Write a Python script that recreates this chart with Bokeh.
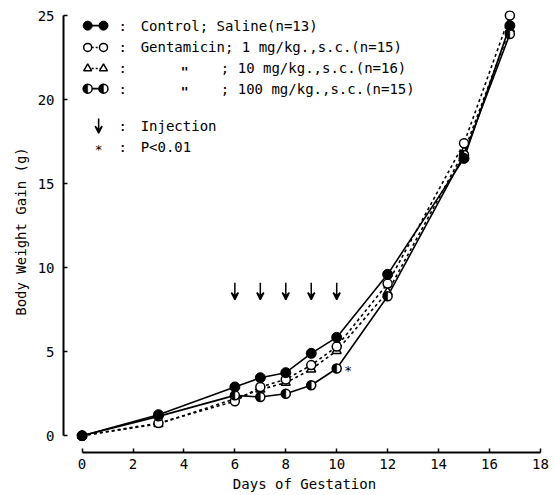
import math
from bokeh.plotting import figure
from bokeh.models import ColumnDataSource, Arrow, VeeHead, FixedTicker
from bokeh.core.properties import value
from bokeh.embed import file_html
from bokeh.resources import INLINE

# ---- data ----
days = [0, 3, 6, 7, 8, 9, 10, 12, 15, 16.8]
control = [0, 1.25, 2.9, 3.45, 3.75, 4.9, 5.85, 9.6, 16.5, 24.4]
genta_1 = [0, 0.75, 2.05, 2.9, 3.35, 4.2, 5.3, 9.05, 17.4, 25.0]
genta_10 = [0, 0.7, 2.2, 2.75, 3.15, 3.95, 5.05, 8.55, 16.9, 24.2]
genta_100 = [0, 1.15, 2.4, 2.3, 2.5, 3.0, 4.0, 8.3, 16.7, 23.9]
injection_days = [6, 7, 8, 9, 10]
signif_day = [10]
signif_val = [4.0]
x_ticks = [0, 2, 4, 6, 8, 10, 12, 14, 16, 18]
y_ticks = [0, 5, 10, 15, 20, 25]
legend_rows = ["Control; Saline(n=13)", "Gentamicin; 1 mg/kg.,s.c.(n=15)",
               "; 10 mg/kg.,s.c.(n=16)", "; 100 mg/kg.,s.c.(n=15)"]

FONT = "DejaVu Sans Mono"
F = value(FONT)
K = "black"

p = figure(width=554, height=495, x_range=(-0.73, 18.2), y_range=(-1.0, 25.3),
           output_backend="svg", toolbar_location=None,
           min_border_left=63, min_border_right=9, min_border_top=10, min_border_bottom=43)
p.outline_line_color = None
p.grid.visible = False
p.background_fill_color = "white"
p.border_fill_color = "white"

for ax in (p.xaxis[0], p.yaxis[0]):
    ax.axis_line_width = 2
    ax.axis_line_color = K
    ax.major_tick_in = 4
    ax.major_tick_out = 0
    ax.major_tick_line_width = 1.5
    ax.major_tick_line_color = K
    ax.minor_tick_line_color = None
    ax.major_label_text_font = FONT
    ax.major_label_text_font_size = "14px"
    ax.major_label_text_color = K
    ax.axis_label_text_font = FONT
    ax.axis_label_text_font_size = "14px"
    ax.axis_label_text_font_style = "normal"
    ax.axis_label_text_color = K

p.xaxis.ticker = FixedTicker(ticks=x_ticks)
p.yaxis.ticker = FixedTicker(ticks=y_ticks)
p.xaxis.bounds = (0, 18)
p.yaxis.bounds = (0, 25)
p.xaxis.axis_label = "Days of Gestation"
p.yaxis.axis_label = "Body Weight Gain (g)"
p.xaxis.major_label_standoff = 6
p.xaxis.axis_label_standoff = 4
p.yaxis.major_label_standoff = 9
p.yaxis.axis_label_standoff = 6

src = ColumnDataSource(dict(d=days, c=control, g1=genta_1, g10=genta_10, g100=genta_100))

# lines
p.line("d", "c", source=src, line_color=K, line_width=1.6)
p.line("d", "g1", source=src, line_color=K, line_width=1.6, line_dash="3 3")
p.line("d", "g10", source=src, line_color=K, line_width=1.6, line_dash="3 3")
p.line("d", "g100", source=src, line_color=K, line_width=1.6)

# markers
p.scatter("d", "g10", source=src, marker="triangle", size=9, fill_color="white",
          line_color=K, line_width=1.5)
p.scatter("d", "g1", source=src, marker="circle", size=9, fill_color="white",
          line_color=K, line_width=1.5)
p.scatter("d", "g100", source=src, marker="circle", size=9, fill_color="white",
          line_color=K, line_width=1.5)
p.wedge("d", "g100", source=src, radius=4.5, radius_units="screen",
        start_angle=math.pi / 2, end_angle=3 * math.pi / 2,
        fill_color=K, line_color=K, line_width=0.5)
p.scatter("d", "c", source=src, marker="circle", size=10, fill_color=K, line_color=K)

# significance
p.text(x=[d + 0.3 for d in signif_day], y=[v - 0.1 for v in signif_val], text=["*"],
       text_font=F, text_font_size="13px", text_baseline="middle", text_align="left",
       text_color=K)

# injection arrows
arr_src = ColumnDataSource(dict(x0=injection_days, y0=[9.1] * len(injection_days),
                                x1=injection_days, y1=[8.1] * len(injection_days)))
p.add_layout(Arrow(end=VeeHead(size=7, line_width=1.5, line_color=K, fill_color=K),
                   x_start="x0", y_start="y0", x_end="x1", y_end="y1", source=arr_src,
                   line_width=1.5, line_color=K))

# ---- legend (hand-made) ----
row_y = [24.4, 23.1, 21.85, 20.65]
mx0, mx1 = 0.22, 0.84
colon_x, text_x = 1.43, 2.3
ditto_x, semi_x = 3.87, 5.45

# row 1 control
p.segment(x0=[mx0], y0=[row_y[0]], x1=[mx1], y1=[row_y[0]], line_color=K, line_width=1.6)
p.scatter([mx0, mx1], [row_y[0]] * 2, marker="circle", size=9, fill_color=K, line_color=K)
# row 2 open circles
p.segment(x0=[mx0], y0=[row_y[1]], x1=[mx1], y1=[row_y[1]], line_color=K,
          line_width=1.4, line_dash="2 2")
p.scatter([mx0, mx1], [row_y[1]] * 2, marker="circle", size=8, fill_color="white",
          line_color=K, line_width=1.5)
# row 3 triangles
p.segment(x0=[mx0], y0=[row_y[2]], x1=[mx1], y1=[row_y[2]], line_color=K,
          line_width=1.4, line_dash="2 2")
p.scatter([mx0, mx1], [row_y[2]] * 2, marker="triangle", size=8, fill_color="white",
          line_color=K, line_width=1.5)
# row 4 half filled
p.segment(x0=[mx0], y0=[row_y[3]], x1=[mx1], y1=[row_y[3]], line_color=K, line_width=1.6)
p.scatter([mx0, mx1], [row_y[3]] * 2, marker="circle", size=9, fill_color="white",
          line_color=K, line_width=1.5)
p.wedge([mx0, mx1], [row_y[3]] * 2, radius=4.5, radius_units="screen",
        start_angle=math.pi / 2, end_angle=3 * math.pi / 2, fill_color=K,
        line_color=K, line_width=0.5)

inj_y, sig_y = 18.45, 17.15
p.text(x=[colon_x] * 6, y=row_y + [inj_y, sig_y], text=[":"] * 6, text_font=F,
       text_font_size="14px", text_baseline="middle", text_align="left", text_color=K)
p.text(x=[text_x, text_x, semi_x, semi_x, text_x, text_x],
       y=row_y + [inj_y, sig_y],
       text=legend_rows + ["Injection", "P<0.01"], text_font=F,
       text_font_size="14px", text_baseline="middle", text_align="left", text_color=K)
p.text(x=[ditto_x, ditto_x], y=[row_y[2] - 0.15, row_y[3] - 0.15], text=['"', '"'],
       text_font=F, text_font_size="13px", text_baseline="middle", text_align="left",
       text_font_style="bold italic", text_color=K)
p.add_layout(Arrow(end=VeeHead(size=7, line_width=1.5, line_color=K, fill_color=K),
                   x_start=0.65, y_start=inj_y + 0.42, x_end=0.65, y_end=inj_y - 0.45,
                   line_width=1.5, line_color=K))
p.text(x=[0.65], y=[sig_y - 0.15], text=["*"], text_font=F, text_font_size="13px",
       text_baseline="middle", text_align="center", text_color=K)

open("out.html", "w").write(file_html(p, INLINE))
